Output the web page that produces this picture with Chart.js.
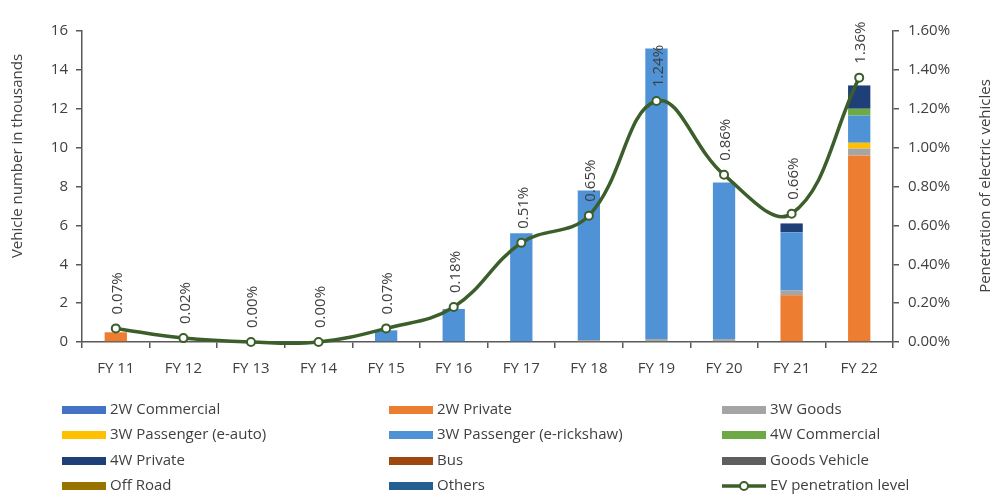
<!DOCTYPE html>
<html>
<head>
<meta charset="utf-8">
<script src="https://cdn.jsdelivr.net/npm/chart.js@4.4.1/dist/chart.umd.min.js"></script>
<style>
  html, body { margin: 0; padding: 0; background: #ffffff; }
  #wrap { width: 996px; height: 497px; position: relative; }
</style>
</head>
<body>
<div id="wrap"><canvas id="evChart" width="996" height="497"></canvas></div>
<script>
// Fiscal years on the category axis
const categories = ['FY 11', 'FY 12', 'FY 13', 'FY 14', 'FY 15', 'FY 16', 'FY 17', 'FY 18', 'FY 19', 'FY 20', 'FY 21', 'FY 22'];

// EV sales by segment, vehicle numbers in thousands (stacked columns)
const twoWCommercial  = [0,   0, 0, 0, 0,   0,   0,   0,   0,     0,    0,    0];
const twoWPrivate     = [0.5, 0, 0, 0, 0,   0,   0,   0,   0,     0,    2.4,  9.6];
const threeWGoods     = [0,   0, 0, 0, 0,   0,   0,   0.1, 0.15,  0.15, 0.25, 0.35];
const threeWEAuto     = [0,   0, 0, 0, 0,   0,   0,   0,   0,     0,    0,    0.3];
const threeWERick     = [0,   0, 0, 0, 0.6, 1.7, 5.6, 7.7, 14.95, 8.05, 3.0,  1.4];
const fourWCommercial = [0,   0, 0, 0, 0,   0,   0,   0,   0,     0,    0,    0.35];
const fourWPrivate    = [0,   0, 0, 0, 0,   0,   0,   0,   0,     0,    0.45, 1.2];
const bus             = [0,   0, 0, 0, 0,   0,   0,   0,   0,     0,    0,    0];
const goodsVehicle    = [0,   0, 0, 0, 0,   0,   0,   0,   0,     0,    0,    0];
const offRoad         = [0,   0, 0, 0, 0,   0,   0,   0,   0,     0,    0,    0];
const others          = [0,   0, 0, 0, 0,   0,   0,   0,   0,     0,    0,    0];

// EV penetration level, percent of all vehicles sold (right axis)
const penetration = [0.07, 0.02, 0.00, 0.00, 0.07, 0.18, 0.51, 0.65, 1.24, 0.86, 0.66, 1.36];

// Axis tick settings
const leftTicks  = { min: 0, max: 16,  step: 2 };
const rightTicks = { min: 0, max: 1.6, step: 0.2 };

const FONT = "'Open Sans', 'DejaVu Sans', sans-serif";
const AXIS_COLOR = '#595959';
const TEXT_COLOR = '#404040';
const LINE_COLOR = '#3b5e2b';

const segments = [
  { label: '2W Commercial',             data: twoWCommercial,  color: '#4472C4' },
  { label: '2W Private',                data: twoWPrivate,     color: '#ED7D31' },
  { label: '3W Goods',                  data: threeWGoods,     color: '#A5A5A5' },
  { label: '3W Passenger (e-auto)',     data: threeWEAuto,     color: '#FFC000' },
  { label: '3W Passenger (e-rickshaw)', data: threeWERick,     color: '#4F93D6' },
  { label: '4W Commercial',             data: fourWCommercial, color: '#6DAA45' },
  { label: '4W Private',                data: fourWPrivate,    color: '#1F3F78' },
  { label: 'Bus',                       data: bus,             color: '#9E480E' },
  { label: 'Goods Vehicle',             data: goodsVehicle,    color: '#5E5E5E' },
  { label: 'Off Road',                  data: offRoad,         color: '#997300' },
  { label: 'Others',                    data: others,          color: '#255E91' }
];

const barDatasets = segments.map(s => ({
  type: 'bar',
  label: s.label,
  data: s.data,
  backgroundColor: s.color,
  borderWidth: 0,
  yAxisID: 'y',
  stack: 'ev',
  order: 2,
  categoryPercentage: 1.0,
  barPercentage: 0.33
}));

const lineDataset = {
  type: 'line',
  label: 'EV penetration level',
  data: penetration,
  yAxisID: 'y1',
  borderColor: LINE_COLOR,
  borderWidth: 3.5,
  tension: 0.4,
  capBezierPoints: false,
  clip: false,
  pointRadius: 4,
  pointBorderWidth: 2,
  pointBackgroundColor: '#ffffff',
  pointBorderColor: LINE_COLOR,
  order: 0
};

// Rotated percentage labels above each penetration point
const pointLabels = {
  id: 'pointLabels',
  afterDatasetsDraw(chart) {
    const idx = chart.data.datasets.indexOf(lineDataset);
    const meta = chart.getDatasetMeta(idx);
    const ctx = chart.ctx;
    ctx.save();
    ctx.fillStyle = TEXT_COLOR;
    ctx.font = `15px ${FONT}`;
    ctx.textAlign = 'left';
    ctx.textBaseline = 'middle';
    meta.data.forEach((pt, i) => {
      ctx.save();
      ctx.translate(pt.x + 2, pt.y - 14);
      ctx.rotate(-Math.PI / 2);
      ctx.fillText(penetration[i].toFixed(2) + '%', 0, 0);
      ctx.restore();
    });
    ctx.restore();
  }
};

// Vertical axis titles, both reading bottom-to-top
const axisTitles = {
  id: 'axisTitles',
  afterDraw(chart) {
    const ctx = chart.ctx;
    const draw = (text, x, y) => {
      ctx.save();
      ctx.translate(x, y);
      ctx.rotate(-Math.PI / 2);
      ctx.textAlign = 'center';
      ctx.textBaseline = 'middle';
      ctx.fillText(text, 0, 0);
      ctx.restore();
    };
    ctx.save();
    ctx.fillStyle = TEXT_COLOR;
    ctx.font = `15px ${FONT}`;
    draw('Vehicle number in thousands', 18, 156);
    draw('Penetration of electric vehicles', 986, 186);
    ctx.restore();
  }
};

// Three-column legend beneath the plot
const gridLegend = {
  id: 'gridLegend',
  afterDraw(chart) {
    const ctx = chart.ctx;
    const colX = [62, 389, 722];
    const rowY = [410, 435, 461, 486];
    const boxW = 44, boxH = 8;
    const items = chart.data.datasets;
    ctx.save();
    ctx.font = `15px ${FONT}`;
    ctx.textBaseline = 'middle';
    ctx.textAlign = 'left';
    items.forEach((ds, i) => {
      const x = colX[i % 3];
      const y = rowY[Math.floor(i / 3)];
      if (ds.type === 'line') {
        ctx.strokeStyle = ds.borderColor;
        ctx.lineWidth = 3.5;
        ctx.beginPath();
        ctx.moveTo(x, y);
        ctx.lineTo(x + boxW, y);
        ctx.stroke();
        ctx.fillStyle = '#ffffff';
        ctx.lineWidth = 2;
        ctx.beginPath();
        ctx.arc(x + boxW / 2, y, 4, 0, Math.PI * 2);
        ctx.fill();
        ctx.stroke();
      } else {
        ctx.fillStyle = ds.backgroundColor;
        ctx.fillRect(x, y - boxH / 2, boxW, boxH);
      }
      ctx.fillStyle = TEXT_COLOR;
      ctx.fillText(ds.label, x + boxW + 4, y);
    });
    ctx.restore();
  }
};

const tickFont = { family: FONT, size: 15 };
const tickGrid = {
  display: true,
  drawOnChartArea: false,
  drawTicks: true,
  tickLength: 6,
  color: AXIS_COLOR,
  lineWidth: 1.5
};
const border = { display: true, color: AXIS_COLOR, width: 1.5 };

new Chart(document.getElementById('evChart'), {
  type: 'bar',
  data: { labels: categories, datasets: [...barDatasets, lineDataset] },
  options: {
    responsive: false,
    animation: false,
    devicePixelRatio: 1,
    layout: { padding: { top: 31, bottom: 107, left: 0, right: 0 } },
    elements: { line: { capBezierPoints: false } },
    plugins: {
      legend: { display: false },
      tooltip: { enabled: false }
    },
    scales: {
      x: {
        stacked: true,
        offset: true,
        grid: { ...tickGrid, offset: true },
        border: border,
        ticks: { color: TEXT_COLOR, font: tickFont, padding: 12, maxRotation: 0, autoSkip: false },
        afterFit: s => { s.height = 48; }
      },
      y: {
        stacked: true,
        position: 'left',
        min: leftTicks.min,
        max: leftTicks.max,
        grid: tickGrid,
        border: border,
        ticks: { stepSize: leftTicks.step, color: TEXT_COLOR, font: tickFont, padding: 8 },
        afterFit: s => { s.width = 82; }
      },
      y1: {
        position: 'right',
        min: rightTicks.min,
        max: rightTicks.max,
        grid: tickGrid,
        border: border,
        ticks: {
          stepSize: rightTicks.step,
          color: TEXT_COLOR,
          font: tickFont,
          padding: 9,
          callback: v => v.toFixed(2) + '%'
        },
        afterFit: s => { s.width = 103; }
      }
    }
  },
  plugins: [pointLabels, axisTitles, gridLegend]
});
</script>
</body>
</html>
